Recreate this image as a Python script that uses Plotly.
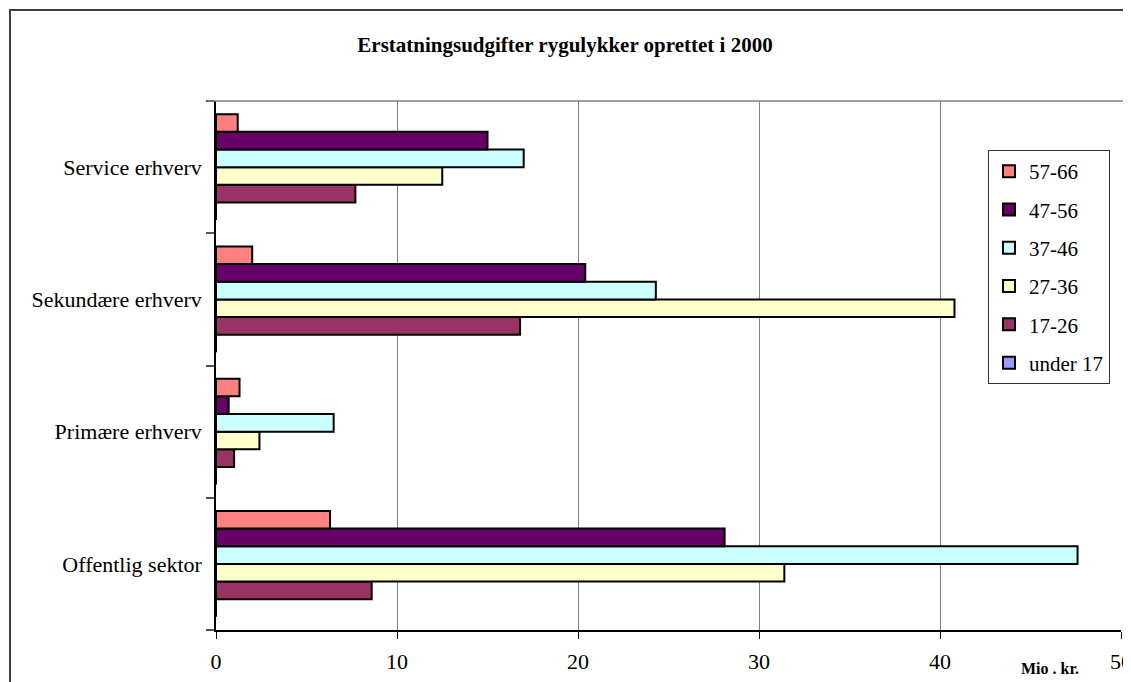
import plotly.graph_objects as go

categories = ["Offentlig sektor", "Primære erhverv", "Sekundære erhverv", "Service erhverv"]
series_names = ["under 17", "17-26", "27-36", "37-46", "47-56", "57-66"]
v_under17 = [0, 0, 0, 0]
v_17_26 = [8.6, 1.0, 16.8, 7.7]
v_27_36 = [31.4, 2.4, 40.8, 12.5]
v_37_46 = [47.6, 6.5, 24.3, 17.0]
v_47_56 = [28.1, 0.7, 20.4, 15.0]
v_57_66 = [6.3, 1.3, 2.0, 1.2]
series_values = [v_under17, v_17_26, v_27_36, v_37_46, v_47_56, v_57_66]
colors = ["#9999FF", "#993366", "#FFFFCC", "#CCFFFF", "#660066", "#FF8080"]
x_ticks = [0, 10, 20, 30, 40, 50]

# page body has an 8px margin; work in screen coordinates
O = 8
SW, SH = 1131, 682
W, H = SW - O, SH - O
# plot area in screen coords
PX0, PX1, PY0, PY1 = 216, 1121, 101, 630
L, R, T, B = PX0 - O, SW - PX1, PY0 - O, SH - PY1
pw, ph = PX1 - PX0, PY1 - PY0

def px(x):
    return (x - PX0) / pw

def py(y):
    return (PY1 - y) / ph

fig = go.Figure()
n = len(series_names)
for i, (name, vals, col) in enumerate(zip(series_names, series_values, colors)):
    fig.add_trace(go.Bar(
        y=categories, x=vals, name=name, orientation="h",
        marker=dict(color=col, line=dict(color="black", width=2)),
        legendgroup=name, legendrank=n - i,
    ))

serif = "Liberation Serif"
fig.update_layout(
    width=W, height=H,
    margin=dict(l=L, r=R, t=T, b=B, autoexpand=False),
    paper_bgcolor="white", plot_bgcolor="white",
    barmode="group", bargap=0.2, bargroupgap=0,
    font=dict(family=serif, size=20, color="black"),
    title=dict(text="<b>Erstatningsudgifter rygulykker oprettet i 2000</b>",
               x=(565 - O) / W, xref="container", xanchor="center",
               y=1 - (45 - O) / H, yref="container", yanchor="middle",
               font=dict(family=serif, size=21, color="black")),
    xaxis=dict(range=[0, 50], tickvals=x_ticks, showgrid=True, gridcolor="#808080", gridwidth=1,
               zeroline=False, showline=True, linecolor="black", linewidth=1.5,
               ticks="outside", ticklen=7, tickcolor="black", tickwidth=1, automargin=False,
               ticklabelstandoff=4, ticklabeloverflow="allow",
               tickfont=dict(family=serif, size=22)),
    yaxis=dict(showline=True, linecolor="black", linewidth=1.5, zeroline=False, automargin=False,
               ticks="outside", tickson="boundaries", ticklen=8, tickcolor="#555555", tickwidth=1.5,
               tickfont=dict(family=serif, size=22), ticklabelstandoff=8),
    legend=dict(x=px(988), y=py(150), xanchor="left", yanchor="top",
                bgcolor="white", bordercolor="#333333", borderwidth=1,
                traceorder="grouped", tracegroupgap=8,
                font=dict(family=serif, size=21)),
    showlegend=True,
)

fig.add_shape(type="line", xref="paper", yref="paper", x0=px(208), x1=px(1131), y0=1, y1=1,
              line=dict(color="#808080", width=1.5))
fig.add_shape(type="rect", xref="paper", yref="paper", x0=px(10), x1=px(1140), y0=py(690), y1=py(10),
              line=dict(color="#404040", width=2))
fig.add_annotation(text="<b>Mio . kr.</b>", xref="paper", yref="paper", x=px(1050), y=py(668),
                   showarrow=False, font=dict(family=serif, size=16), xanchor="center", yanchor="middle")

fig.write_html("out.html")
